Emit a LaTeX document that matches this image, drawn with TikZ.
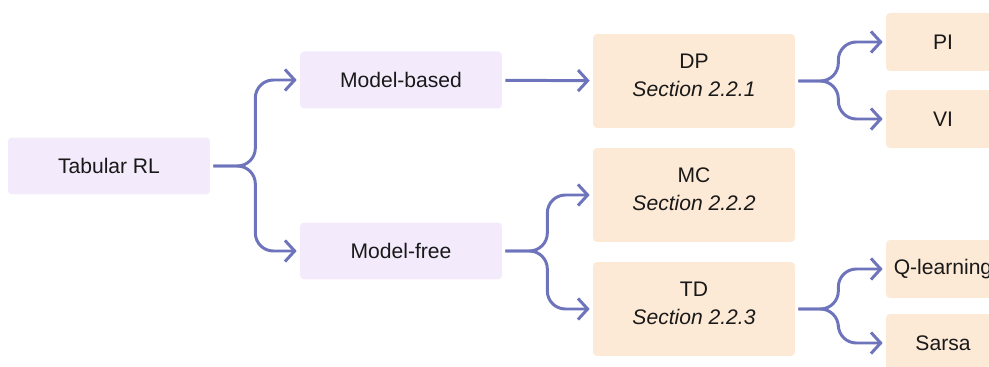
\documentclass[tikz,border=0pt]{standalone}
\usepackage{fontspec}
\setmainfont{Liberation Sans}
\usetikzlibrary{arrows.meta}
\definecolor{lavender}{RGB}{243,235,252}
\definecolor{peach}{RGB}{253,234,214}
\definecolor{linkblue}{RGB}{110,116,187}

\begin{document}
\begin{tikzpicture}[x=0.02cm, y=-0.02cm,
    box/.style={rounded corners=0.08cm, minimum width=4.04cm, minimum height=1.14cm,
        inner sep=0pt, align=center, text=black!90, font=\fontsize{12}{16}\selectfont},
    mainbox/.style={box, fill=lavender},
    algbox/.style={box, fill=peach, minimum height=1.88cm, text depth=0.24cm},
    leafbox/.style={box, fill=peach, minimum width=2.28cm, minimum height=1.16cm},
    link/.style={draw=linkblue, line width=1.7pt, rounded corners=0.36cm,
        shorten <=0.06cm, shorten >=0.06cm, -{Straight Barb[length=5.5pt, width=12pt]}}]
    \clip (0,0) rectangle (989,367);

    % Create boxes
    \node[mainbox] (tab) at (109,166) {Tabular RL};
    \node[mainbox] (mb) at (401,80) {Model-based};
    \node[mainbox] (mf) at (401,251) {Model-free};
    \node[algbox] (dp) at (694,81) {DP\\\textit{Section 2.2.1}};
    \node[algbox] (mc) at (694,195) {MC\\\textit{Section 2.2.2}};
    \node[algbox] (td) at (694,309) {TD\\\textit{Section 2.2.3}};
    \node[leafbox] (pi) at (943,42) {PI};
    \node[leafbox] (vi) at (943,119) {VI};
    \node[leafbox] (ql) at (943,269) {Q-learning};
    \node[leafbox] (sa) at (943,343) {Sarsa};

    % Draw links
    \draw[link] (tab.east) -- ++(45,0) |- (mb.west);
    \draw[link] (tab.east) -- ++(45,0) |- (mf.west);
    \draw[link] (mb) -- (dp);
    \draw[link] (mf.east) -- ++(45,0) |- (mc.west);
    \draw[link] (mf.east) -- ++(45,0) |- (td.west);
    \draw[link] (dp.east) -- ++(43,0) |- (pi.west);
    \draw[link] (dp.east) -- ++(43,0) |- (vi.west);
    \draw[link] (td.east) -- ++(43,0) |- (ql.west);
    \draw[link] (td.east) -- ++(43,0) |- (sa.west);
\end{tikzpicture}
\end{document}
